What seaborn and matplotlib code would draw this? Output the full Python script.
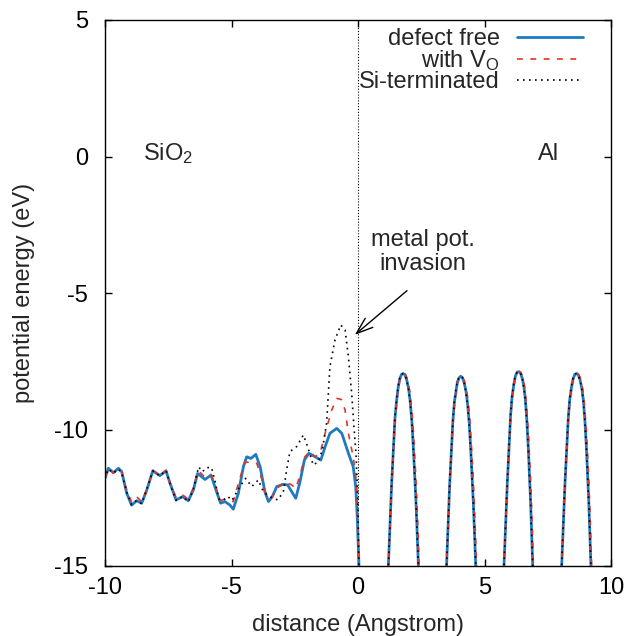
import numpy as np
import pandas as pd
import matplotlib
matplotlib.use('Agg')
import matplotlib.pyplot as plt
import seaborn as sns

# Potential energy across the SiO2 / Al interface

# SiO2 side, defect free
ox_x_free = [-10, -9.87, -9.67, -9.47, -9.34, -9.14, -8.95, -8.75, -8.55, -8.35, -8.11, -7.83, -7.59,
             -7.43, -7.19, -6.93, -6.71, -6.51, -6.34, -6.05, -5.81, -5.59, -5.43, -5.26, -5.06, -4.93,
             -4.73, -4.53, -4.4, -4.23, -4.04, -3.87, -3.68, -3.54, -3.39, -3.21, -2.95, -2.78, -2.62,
             -2.46, -2.29, -2.12, -1.94, -1.7, -1.47, -1.3, -1.11, -0.84, -0.64, -0.38, -0.19, -0.09,
             -0.03, 0.04, 0.1]
ox_e_free = [-11.79, -11.42, -11.58, -11.42, -11.54, -12.34, -12.77, -12.61, -12.7, -12.22, -11.51, -11.69,
             -11.51, -11.97, -12.58, -12.46, -12.61, -12.22, -11.61, -11.83, -11.67, -12.28, -12.7, -12.64,
             -12.77, -12.92, -12.34, -11.36, -11.0, -11.06, -10.91, -11.36, -12.28, -12.64, -12.46, -12.09,
             -12.01, -12.03, -12.28, -12.52, -11.91, -11.12, -10.87, -11.0, -11.12, -10.63, -10.14, -9.96,
             -10.14, -10.87, -11.36, -12.09, -13.19, -15.0, -17.5]

# SiO2 side, with oxygen vacancy
ox_x_vo = [-10, -9.87, -9.67, -9.47, -9.34, -9.14, -8.95, -8.75, -8.55, -8.35, -8.11, -7.83, -7.59,
           -7.43, -7.19, -6.93, -6.71, -6.51, -6.32, -6.05, -5.81, -5.59, -5.43, -5.26, -5.06, -4.93,
           -4.67, -4.47, -4.2, -4.0, -3.81, -3.61, -3.42, -3.21, -2.89, -2.62, -2.46, -2.29, -2.1,
           -1.9, -1.7, -1.5, -1.3, -1.15, -1.04, -0.84, -0.66, -0.51, -0.38, -0.19, -0.05, 0.02, 0.1]
ox_e_vo = [-11.75, -11.45, -11.6, -11.42, -11.55, -12.25, -12.65, -12.46, -12.65, -12.2, -11.5, -11.7,
           -11.5, -11.95, -12.5, -12.4, -12.55, -12.15, -11.5, -11.75, -11.65, -12.2, -12.6, -12.55,
           -12.62, -12.64, -11.79, -11.21, -11.18, -11.24, -11.79, -12.46, -12.52, -12.16, -11.91,
           -12.03, -12.16, -11.67, -11.0, -10.8, -11.0, -10.87, -10.14, -9.65, -9.29, -8.86, -8.9,
           -9.29, -10.14, -11.0, -11.97, -15.0, -17.5]

# SiO2 side, Si-terminated
ox_x_si = [-10, -9.87, -9.67, -9.47, -9.34, -9.14, -8.95, -8.75, -8.55, -8.35, -8.11, -7.83, -7.59,
           -7.43, -7.19, -6.93, -6.71, -6.51, -6.3, -6.15, -6.0, -5.79, -5.65, -5.5, -5.3, -5.15,
           -4.98, -4.67, -4.44, -4.2, -3.94, -3.74, -3.5, -3.17, -2.95, -2.82, -2.69, -2.43, -2.16,
           -1.99, -1.77, -1.57, -1.41, -1.24, -1.11, -0.91, -0.68, -0.51, -0.38, -0.25, -0.16, -0.08,
           0.0, 0.03, 0.1]
ox_e_si = [-11.8, -11.45, -11.6, -11.45, -11.6, -12.3, -12.75, -12.6, -12.72, -12.2, -11.52, -11.7,
           -11.5, -12.0, -12.6, -12.45, -12.65, -12.2, -11.37, -11.55, -11.4, -11.39, -11.9, -12.55,
           -12.58, -12.45, -12.6, -12.09, -11.79, -12.09, -11.85, -12.28, -12.46, -12.58, -12.28,
           -11.48, -10.81, -10.63, -10.2, -10.63, -11.3, -11.18, -10.75, -9.77, -7.7, -6.72, -6.17,
           -6.36, -7.33, -8.67, -9.9, -10.87, -12.8, -14.84, -17.5]

# Al side (four humps between the atomic planes)
al_x = [0.6,
        1.12, 1.20, 1.33, 1.46, 1.53, 1.59, 1.65, 1.72, 1.79, 1.86, 1.93, 2.00, 2.06, 2.13, 2.19, 2.29, 2.38, 2.46, 2.94,
        3.42, 3.50, 3.62, 3.75, 3.81, 3.88, 3.93, 4.00, 4.06, 4.13, 4.20, 4.27, 4.33, 4.40, 4.46, 4.56, 4.65, 4.73, 5.2,
        5.69, 5.77, 5.90, 6.03, 6.09, 6.16, 6.22, 6.29, 6.36, 6.43, 6.50, 6.56, 6.61, 6.67, 6.73, 6.82, 6.90, 6.98, 7.5,
        7.97, 8.05, 8.18, 8.31, 8.37, 8.44, 8.50, 8.57, 8.64, 8.71, 8.78, 8.85, 8.91, 8.97, 9.03, 9.12, 9.20, 9.28, 9.7]
al_e_free = [-21,
             -17.5, -15.0, -12.0, -9.6, -8.9, -8.45, -8.15, -7.98, -7.95, -8.0, -8.2, -8.5, -8.95, -9.7, -10.7, -12.6, -14.8, -17.5, -21,
             -17.5, -15.0, -12.1, -9.7, -9.0, -8.55, -8.25, -8.1, -8.05, -8.1, -8.3, -8.6, -9.05, -9.8, -10.8, -12.7, -14.9, -17.5, -21,
             -17.5, -15.0, -12.0, -9.5, -8.8, -8.35, -8.05, -7.9, -7.88, -7.95, -8.15, -8.45, -8.85, -9.6, -10.65, -12.6, -14.8, -17.5, -21,
             -17.5, -15.0, -12.0, -9.6, -8.9, -8.45, -8.15, -7.98, -7.95, -8.0, -8.2, -8.5, -8.95, -9.7, -10.7, -12.6, -14.8, -17.5, -21]
al_e_vo = [-21,
           -17.5, -15.0, -12.1, -9.7, -9.0, -8.5, -8.2, -8.0, -7.95, -7.97, -8.1, -8.35, -8.7, -9.3, -10.1, -11.8, -13.9, -16.5, -21,
           -17.5, -15.0, -12.2, -9.8, -9.1, -8.6, -8.3, -8.12, -8.05, -8.07, -8.2, -8.45, -8.8, -9.4, -10.2, -11.9, -14.0, -16.5, -21,
           -17.5, -15.0, -12.1, -9.6, -8.9, -8.4, -8.1, -7.92, -7.88, -7.9, -8.05, -8.3, -8.6, -9.2, -10.05, -11.8, -13.9, -16.5, -21,
           -17.5, -15.0, -12.1, -9.7, -9.0, -8.5, -8.2, -8.0, -7.95, -7.97, -8.1, -8.35, -8.7, -9.3, -10.1, -11.8, -13.9, -16.5, -21]
al_e_si = [-21,
           -17.5, -15.0, -11.9, -9.55, -8.85, -8.4, -8.12, -7.97, -7.95, -8.0, -8.22, -8.55, -9.0, -9.75, -10.75, -12.65, -14.85, -17.5, -21,
           -17.5, -15.0, -12.0, -9.65, -8.95, -8.5, -8.22, -8.08, -8.05, -8.1, -8.32, -8.65, -9.1, -9.85, -10.85, -12.75, -14.9, -17.5, -21,
           -17.5, -15.0, -11.9, -9.45, -8.75, -8.3, -8.02, -7.9, -7.88, -7.95, -8.17, -8.5, -8.9, -9.65, -10.7, -12.65, -14.85, -17.5, -21,
           -17.5, -15.0, -11.9, -9.55, -8.85, -8.4, -8.12, -7.97, -7.95, -8.0, -8.22, -8.55, -9.0, -9.75, -10.75, -12.65, -14.85, -17.5, -21]

labels = ['defect free', 'with V$_\\mathrm{O}$', 'Si-terminated']

sns.set_style('ticks')
plt.rcParams['font.family'] = ['Liberation Sans', 'DejaVu Sans']
plt.rcParams['font.size'] = 17
plt.rcParams['axes.unicode_minus'] = False
plt.rcParams['mathtext.fontset'] = 'custom'
plt.rcParams['mathtext.rm'] = 'Liberation Sans'
plt.rcParams['mathtext.it'] = 'Liberation Sans'

free = pd.DataFrame({'x': ox_x_free + al_x, 'e': ox_e_free + al_e_free})
vo = pd.DataFrame({'x': ox_x_vo + al_x, 'e': ox_e_vo + al_e_vo})
si = pd.DataFrame({'x': ox_x_si + al_x, 'e': ox_e_si + al_e_si})

fig = plt.figure(figsize=(6.3, 6.36), dpi=100)
ax = fig.add_axes([105/630, 1 - 566/636, 506/630, 546/636])

ax.axvline(0, color='black', lw=0.8, ls=(0, (1, 1.6)), zorder=1)
sns.lineplot(data=free, x='x', y='e', ax=ax, estimator=None, sort=False,
             color='#1f7bbf', lw=2.0, label=labels[0])
sns.lineplot(data=vo, x='x', y='e', ax=ax, estimator=None, sort=False,
             color='#e3342c', lw=1.2, ls=(0, (3.5, 4.5)), label=labels[1])
sns.lineplot(data=si, x='x', y='e', ax=ax, estimator=None, sort=False,
             color='black', lw=1.2, ls=(0, (1, 2.6)), label=labels[2])

ax.set_xlim(-10, 10)
ax.set_ylim(-15, 5)
ax.set_xticks([-10, -5, 0, 5, 10])
ax.set_yticks([-15, -10, -5, 0, 5])
ax.tick_params(direction='in', length=5, width=1, top=True, right=True, colors='black')
ax.tick_params(axis='x', pad=8)
ax.tick_params(axis='y', pad=12)
for s in ax.spines.values():
    s.set_linewidth(1.0)
    s.set_color('black')

ax.set_xlabel('distance (Angstrom)', labelpad=11)
ax.set_ylabel('potential energy (eV)', labelpad=14)

ax.text(-8.5, 0.1, 'SiO$_2$', ha='left', va='center')
ax.text(7.1, 0.1, 'Al', ha='left', va='center')
ax.annotate('', xy=(-0.21, -6.6), xytext=(2.02, -4.85),
            arrowprops=dict(arrowstyle='->,head_length=0.7,head_width=0.25', color='black', lw=1.0))
ax.text(2.57, -3.5, 'metal pot.\ninvasion', ha='center', va='center', linespacing=1.1)

ax.legend(loc='upper right', bbox_to_anchor=(0.9636, 1.003), frameon=False, markerfirst=False,
          handlelength=2.8, handletextpad=0.72, labelspacing=-0.07, borderaxespad=0)

plt.savefig('out.png', dpi=100)
